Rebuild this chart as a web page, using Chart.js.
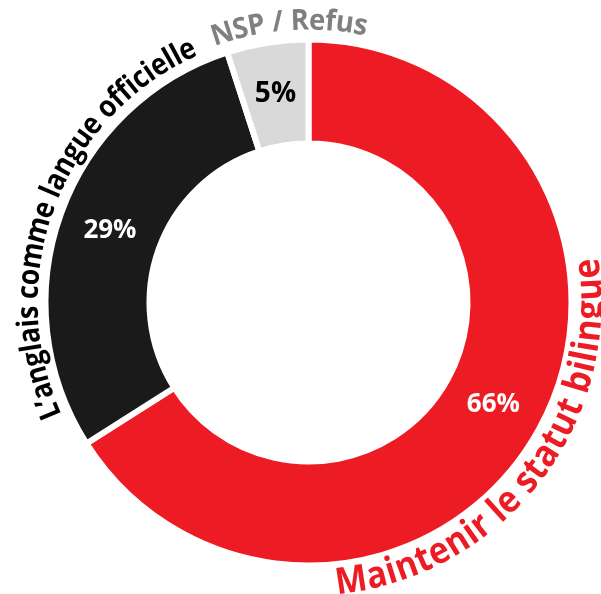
<!DOCTYPE html>
<html>
<head>
<meta charset="utf-8">
<script src="https://cdn.jsdelivr.net/npm/chart.js@4.4.1/dist/chart.umd.min.js"></script>
<style>
  html, body { margin: 0; padding: 0; background: #ffffff; }
  #wrap { width: 601px; height: 594px; }
</style>
</head>
<body>
<div id="wrap"><canvas id="c" width="601" height="594"></canvas></div>
<script>
// ---- data ----
const categories = ["Maintenir le statut bilingue", "L\u2019anglais comme langue officielle", "NSP / Refus"];
const values = [66, 29, 5];
const valueLabels = ["66%", "29%", "5%"];

// ---- styles ----
const sliceColors = ["#ED1C24", "#1A1A1A", "#D9D9D9"];
const valueLabelColors = ["#FFFFFF", "#FFFFFF", "#000000"];
const valueLabelSizes = [26, 26, 28];
const categoryLabelColors = ["#ED1C24", "#000000", "#808080"];
const FONT = "'Open Sans', 'Liberation Sans', sans-serif";
// curved label layout: angle offset (deg) from slice mid, baseline offset (px) from outer radius,
// font size, horizontal condensation, tops toward centre?
const curvedStyle = [
  { angleOffset: 9.0, baseOffset: 30, size: 37, hs: 0.91, inward: true },
  { angleOffset: 1.0, baseOffset: 8, size: 30, hs: 0.89, inward: false },
  { angleOffset: 5.0, baseOffset: 10, size: 29, hs: 0.95, inward: false }
];

function drawArcText(ctx, text, cx, cy, rBase, centerAngle, inward, size, hs, color) {
  ctx.save();
  ctx.font = "bold " + size + "px " + FONT;
  ctx.fillStyle = color;
  ctx.textAlign = "center";
  ctx.textBaseline = "alphabetic";
  const rMid = inward ? rBase - 0.27 * size : rBase + 0.27 * size;
  const total = ctx.measureText(text).width * hs;
  const span = total / rMid;
  const chars = Array.from(text);
  let sum = 0;
  const ws = chars.map(ch => { const w = ctx.measureText(ch).width * hs; sum += w; return w; });
  const k = total / sum;
  const dir = inward ? -1 : 1;
  let a = centerAngle - dir * span / 2;
  chars.forEach((ch, i) => {
    const w = ws[i] * k;
    const ac = a + dir * (w / 2) / rMid;
    ctx.save();
    ctx.translate(cx + rBase * Math.cos(ac), cy + rBase * Math.sin(ac));
    ctx.rotate(ac + dir * Math.PI / 2);
    ctx.scale(hs, 1);
    ctx.fillText(ch, 0, 0);
    ctx.restore();
    a += dir * w / rMid;
  });
  ctx.restore();
}

const labelPlugin = {
  id: "labelPlugin",
  afterDatasetsDraw(chart) {
    const ctx = chart.ctx;
    const meta = chart.getDatasetMeta(0);
    meta.data.forEach((arc, i) => {
      const p = arc.getProps(["x", "y", "startAngle", "endAngle", "outerRadius", "innerRadius"], true);
      const mid = (p.startAngle + p.endAngle) / 2;
      const rv = (p.outerRadius + p.innerRadius) / 2;
      ctx.save();
      ctx.font = "bold " + valueLabelSizes[i] + "px " + FONT;
      ctx.fillStyle = valueLabelColors[i];
      ctx.textAlign = "center";
      ctx.textBaseline = "middle";
      ctx.fillText(valueLabels[i], p.x + rv * Math.cos(mid), p.y + rv * Math.sin(mid));
      ctx.restore();
      const st = curvedStyle[i];
      const ca = mid + st.angleOffset * Math.PI / 180;
      drawArcText(ctx, categories[i], p.x, p.y, p.outerRadius + st.baseOffset, ca, st.inward, st.size, st.hs, categoryLabelColors[i]);
    });
  }
};

new Chart(document.getElementById("c"), {
  type: "doughnut",
  data: {
    labels: categories,
    datasets: [{
      data: values,
      backgroundColor: sliceColors,
      borderColor: "#FFFFFF",
      borderWidth: 6,
      hoverOffset: 0
    }]
  },
  options: {
    responsive: false,
    animation: false,
    cutout: "60.46%",
    layout: { padding: { left: 42.5, top: 36.5, right: 26.5, bottom: 25.5 } },
    plugins: { legend: { display: false }, tooltip: { enabled: false } }
  },
  plugins: [labelPlugin]
});
</script>
</body>
</html>
